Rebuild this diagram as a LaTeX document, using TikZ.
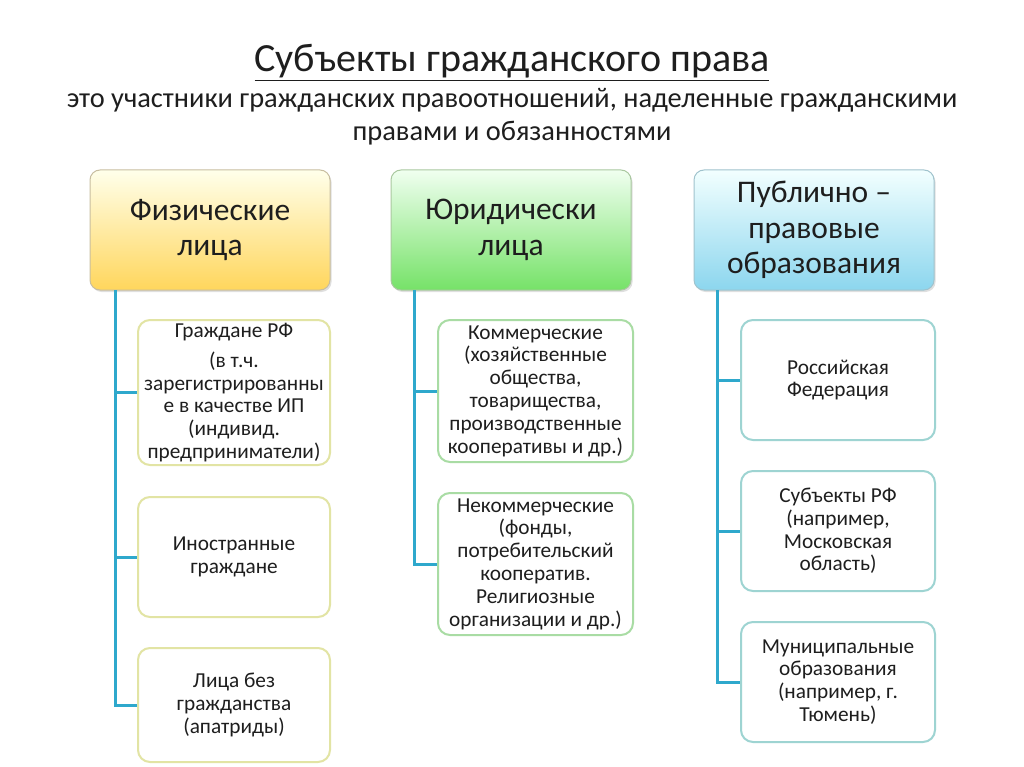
\documentclass[tikz,border=0pt]{standalone}
\usepackage{fontspec}
\setmainfont{Carlito}
\usetikzlibrary{shadows}
\definecolor{linec}{HTML}{2EA8CC}
\definecolor{txt}{HTML}{1E1E1E}
\definecolor{yb}{HTML}{E2E4A4}
\definecolor{gb}{HTML}{A9DCA4}
\definecolor{bb}{HTML}{9ED4D2}
\definecolor{hyb}{RGB}{200,190,160}
\definecolor{hgb}{RGB}{170,200,160}
\definecolor{hbb}{RGB}{160,195,205}
\definecolor{yfill}{RGB}{255,214,92}
\definecolor{gfill}{RGB}{118,226,104}
\definecolor{bfill}{RGB}{140,214,238}
\tikzset{
  head/.style={rounded corners=10pt, draw=#1, line width=1pt, minimum width=240pt, minimum height=120pt, align=center, text=txt, font=\fontsize{31.5}{35.5}\selectfont, drop shadow={opacity=0.25, shadow xshift=1.5pt, shadow yshift=-2pt}},
  kid/.style={rounded corners=12pt, draw=#1, line width=2pt, fill=white, align=center, text=txt, font=\fontsize{21.3}{22.8}\selectfont, inner sep=0pt},
  conn/.style={draw=linec, line width=3pt},
}
\begin{document}
\begin{tikzpicture}[x=1pt,y=-1pt]
\useasboundingbox[fill=white] (0,0) rectangle (1024,767);
% titles
\node[anchor=base, text=txt, font=\fontsize{40}{44}\selectfont] (title) at (512,72) {\underline{Субъекты гражданского права}};
\node[anchor=base, text=txt, font=\fontsize{28.4}{33}\selectfont] (sub1) at (512,108) {это участники гражданских правоотношений, наделенные гражданскими};
\node[anchor=base, text=txt, font=\fontsize{28.4}{33}\selectfont] (sub2) at (512,141) {правами и обязанностями};
% heads
\node[head=hyb, top color=yellow!8!white, bottom color=yfill] (h1) at (210,230) {Физические\\лица};
\node[head=hgb, top color=green!6!white, bottom color=gfill] (h2) at (511,230) {Юридически\\лица};
\node[head=hbb, top color=cyan!5!white, bottom color=bfill] (h3) at (814,230) {Публично –\\правовые\\образования};
% trunks
\coordinate (t1) at (115,290);
\coordinate (t2) at (414,290);
\coordinate (t3) at (717,290);
% column 1
\node[kid=yb, minimum width=192pt, minimum height=145pt] (c1) at (234,392.5) {Граждане РФ\\[7pt](в т.ч.\\зарегистрированны\\е в качестве ИП\\(индивид.\\предприниматели)};
\node[kid=yb, minimum width=192pt, minimum height=120pt] (c2) at (234,557) {Иностранные\\граждане};
\node[kid=yb, minimum width=192pt, minimum height=114pt] (c3) at (234,705) {Лица без\\гражданства\\(апатриды)};
% column 2
\node[kid=gb, minimum width=195pt, minimum height=142pt] (d1) at (535.5,391) {Коммерческие\\(хозяйственные\\общества,\\товарищества,\\производственные\\кооперативы и др.)};
\node[kid=gb, minimum width=195pt, minimum height=142pt] (d2) at (535.5,564) {Некоммерческие\\(фонды,\\потребительский\\кооператив.\\Религиозные\\организации и др.)};
% column 3
\node[kid=bb, minimum width=194pt, minimum height=120pt] (e1) at (838,380) {Российская\\Федерация};
\node[kid=bb, minimum width=194pt, minimum height=120pt] (e2) at (838,531) {Субъекты РФ\\(например,\\Московская\\область)};
\node[kid=bb, minimum width=194pt, minimum height=120pt] (e3) at (838,682) {Муниципальные\\образования\\(например, г.\\Тюмень)};
% connectors
\draw[conn] (t1) |- (c1.west);
\draw[conn] (t1) |- (c2.west);
\draw[conn] (t1) |- (c3.west);
\draw[conn] (t2) |- (d1.west);
\draw[conn] (t2) |- (d2.west);
\draw[conn] (t3) |- (e1.west);
\draw[conn] (t3) |- (e2.west);
\draw[conn] (t3) |- (e3.west);
\end{tikzpicture}
\end{document}
